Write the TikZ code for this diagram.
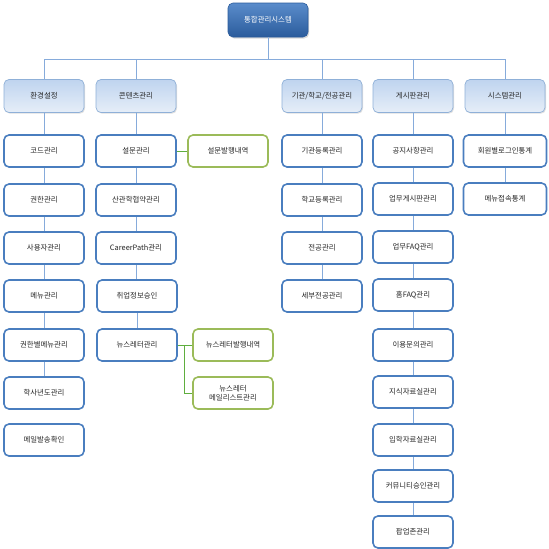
\documentclass[tikz,border=0pt]{standalone}
\usepackage{fontspec}
\newfontfamily\kr{Noto Sans CJK KR}
\usetikzlibrary{shadows}
\definecolor{topA}{HTML}{5A8CCB}
\definecolor{topB}{HTML}{2B5C9C}
\definecolor{lvA}{HTML}{BFD4EF}
\definecolor{lvB}{HTML}{E6EEF8}
\definecolor{lvBorder}{HTML}{8FB0D8}
\definecolor{boxBorder}{HTML}{4A7EBF}
\definecolor{greenBorder}{HTML}{9BBB59}
\definecolor{lineBlue}{HTML}{86ABDB}
\definecolor{lineGreen}{HTML}{5FAE3E}
\tikzset{
  txt/.style={font=\kr\fontsize{7.4}{9}\selectfont, align=center, inner sep=1pt},
  topbox/.style={txt, text=white, rounded corners=5pt, minimum width=80pt, minimum height=34pt,
    top color=topA, bottom color=topB, draw=topB, line width=0.6pt,
    drop shadow={opacity=0.3, shadow xshift=1.2pt, shadow yshift=-1.5pt}},
  lvbox/.style={txt, text=black!85, rounded corners=5pt, minimum width=80pt, minimum height=33pt,
    top color=lvA, bottom color=lvB, draw=lvBorder, line width=0.7pt,
    drop shadow={opacity=0.25, shadow xshift=1pt, shadow yshift=-1.2pt}},
  itembox/.style={txt, text=black!85, rounded corners=5pt, minimum width=80pt, minimum height=32pt,
    fill=white, draw=boxBorder, line width=1.6pt},
  gbox/.style={itembox, draw=greenBorder},
  bline/.style={draw=lineBlue, line width=0.8pt},
  gline/.style={draw=lineGreen, line width=0.9pt}
}
\begin{document}
\begin{tikzpicture}[x=1pt,y=1pt]
\useasboundingbox (0,0) rectangle (549,-549);
% top
\node[topbox] (t) at (268,-20) {통합관리시스템};
% level 1
\node[lvbox] (a1) at (44,-96) {환경설정};
\node[lvbox] (a2) at (136,-96) {콘텐츠관리};
\node[lvbox] (a3) at (322,-96) {기관/학교/전공관리};
\node[lvbox] (a4) at (413,-96) {게시판관리};
\node[lvbox] (a5) at (505,-96) {시스템관리};
% column 1
\node[itembox] (b1) at (44,-151) {코드관리};
\node[itembox] (b2) at (44,-200) {권한관리};
\node[itembox] (b3) at (44,-248) {사용자관리};
\node[itembox] (b4) at (44,-296) {메뉴관리};
\node[itembox] (b5) at (44,-345) {권한별메뉴관리};
\node[itembox] (b6) at (44,-393) {학사년도관리};
\node[itembox] (b7) at (44,-440) {메일발송확인};
% column 2
\node[itembox] (c1) at (136,-151) {설문관리};
\node[itembox] (c2) at (136,-200) {산관학협약관리};
\node[itembox] (c3) at (136,-248) {CareerPath관리};
\node[itembox] (c4) at (137,-296) {취업정보승인};
\node[itembox] (c5) at (137,-345) {뉴스레터관리};
% green
\node[gbox] (g1) at (228,-151) {설문발행내역};
\node[gbox] (g2) at (233,-345) {뉴스레터발행내역};
\node[gbox] (g3) at (233,-393) {뉴스레터\\메일리스트관리};
% column 3
\node[itembox] (d1) at (322,-151) {기관등록관리};
\node[itembox] (d2) at (322,-200) {학교등록관리};
\node[itembox] (d3) at (322,-248) {전공관리};
\node[itembox] (d4) at (322,-296) {세부전공관리};
% column 4
\node[itembox] (e1) at (413,-151) {공지사항관리};
\node[itembox] (e2) at (413,-199) {업무게시판관리};
\node[itembox] (e3) at (413,-247) {업무FAQ관리};
\node[itembox] (e4) at (413,-295) {홈FAQ관리};
\node[itembox] (e5) at (413,-345) {이용문의관리};
\node[itembox] (e6) at (413,-392) {지식자료실관리};
\node[itembox] (e7) at (413,-440) {입학자료실관리};
\node[itembox] (e8) at (413,-486) {커뮤니티승인관리};
\node[itembox] (e9) at (413,-532) {팝업존관리};
% column 5
\node[itembox, minimum width=83pt] (f1) at (505,-151) {회원별로그인통계};
\node[itembox, minimum width=83pt] (f2) at (505,-199) {메뉴접속통계};
% bus
\coordinate (bus) at (0,-59);
\draw[bline] (t.south) -- (t.south |- bus) -| (a1.north);
\draw[bline] (t.south |- bus) -| (a2.north);
\draw[bline] (t.south |- bus) -| (a3.north);
\draw[bline] (t.south |- bus) -| (a4.north);
\draw[bline] (t.south |- bus) -| (a5.north);
% column lines
\draw[bline] (a1.south) -- (b1.north);
\draw[bline] (b1.south) -- (b2.north);
\draw[bline] (b2.south) -- (b3.north);
\draw[bline] (b3.south) -- (b4.north);
\draw[bline] (b4.south) -- (b5.north);
\draw[bline] (b5.south) -- (b6.north);
\draw[bline] (a2.south) -- (c1.north);
\draw[bline] (c1.south) -- (c2.north);
\draw[bline] (c2.south) -- (c3.north);
\draw[bline] (c3.south) -- (c3.south |- c4.north);
\draw[bline] (c4.south) -- (c4.south |- c5.north);
\draw[bline] (a3.south) -- (d1.north);
\draw[bline] (d1.south) -- (d2.north);
\draw[bline] (d2.south) -- (d3.north);
\draw[bline] (d3.south) -- (d4.north);
\draw[bline] (a4.south) -- (e1.north);
\draw[bline] (e1.south) -- (e2.north);
\draw[bline] (e2.south) -- (e3.north);
\draw[bline] (e3.south) -- (e4.north);
\draw[bline] (e4.south) -- (e5.north);
\draw[bline] (e5.south) -- (e6.north);
\draw[bline] (e6.south) -- (e7.north);
\draw[bline] (e7.south) -- (e8.north);
\draw[bline] (e8.south) -- (e9.north);
\draw[bline] (a5.south) -- (f1.north);
\draw[bline] (f1.south) -- (f2.north);
% green connectors
\draw[gline] (c1.east) -- (g1.west);
\draw[gline] (c5.east) -- (g2.west);
\draw[gline] (c5.east) -- ++(7,0) |- (g3.west);
\end{tikzpicture}
\end{document}
